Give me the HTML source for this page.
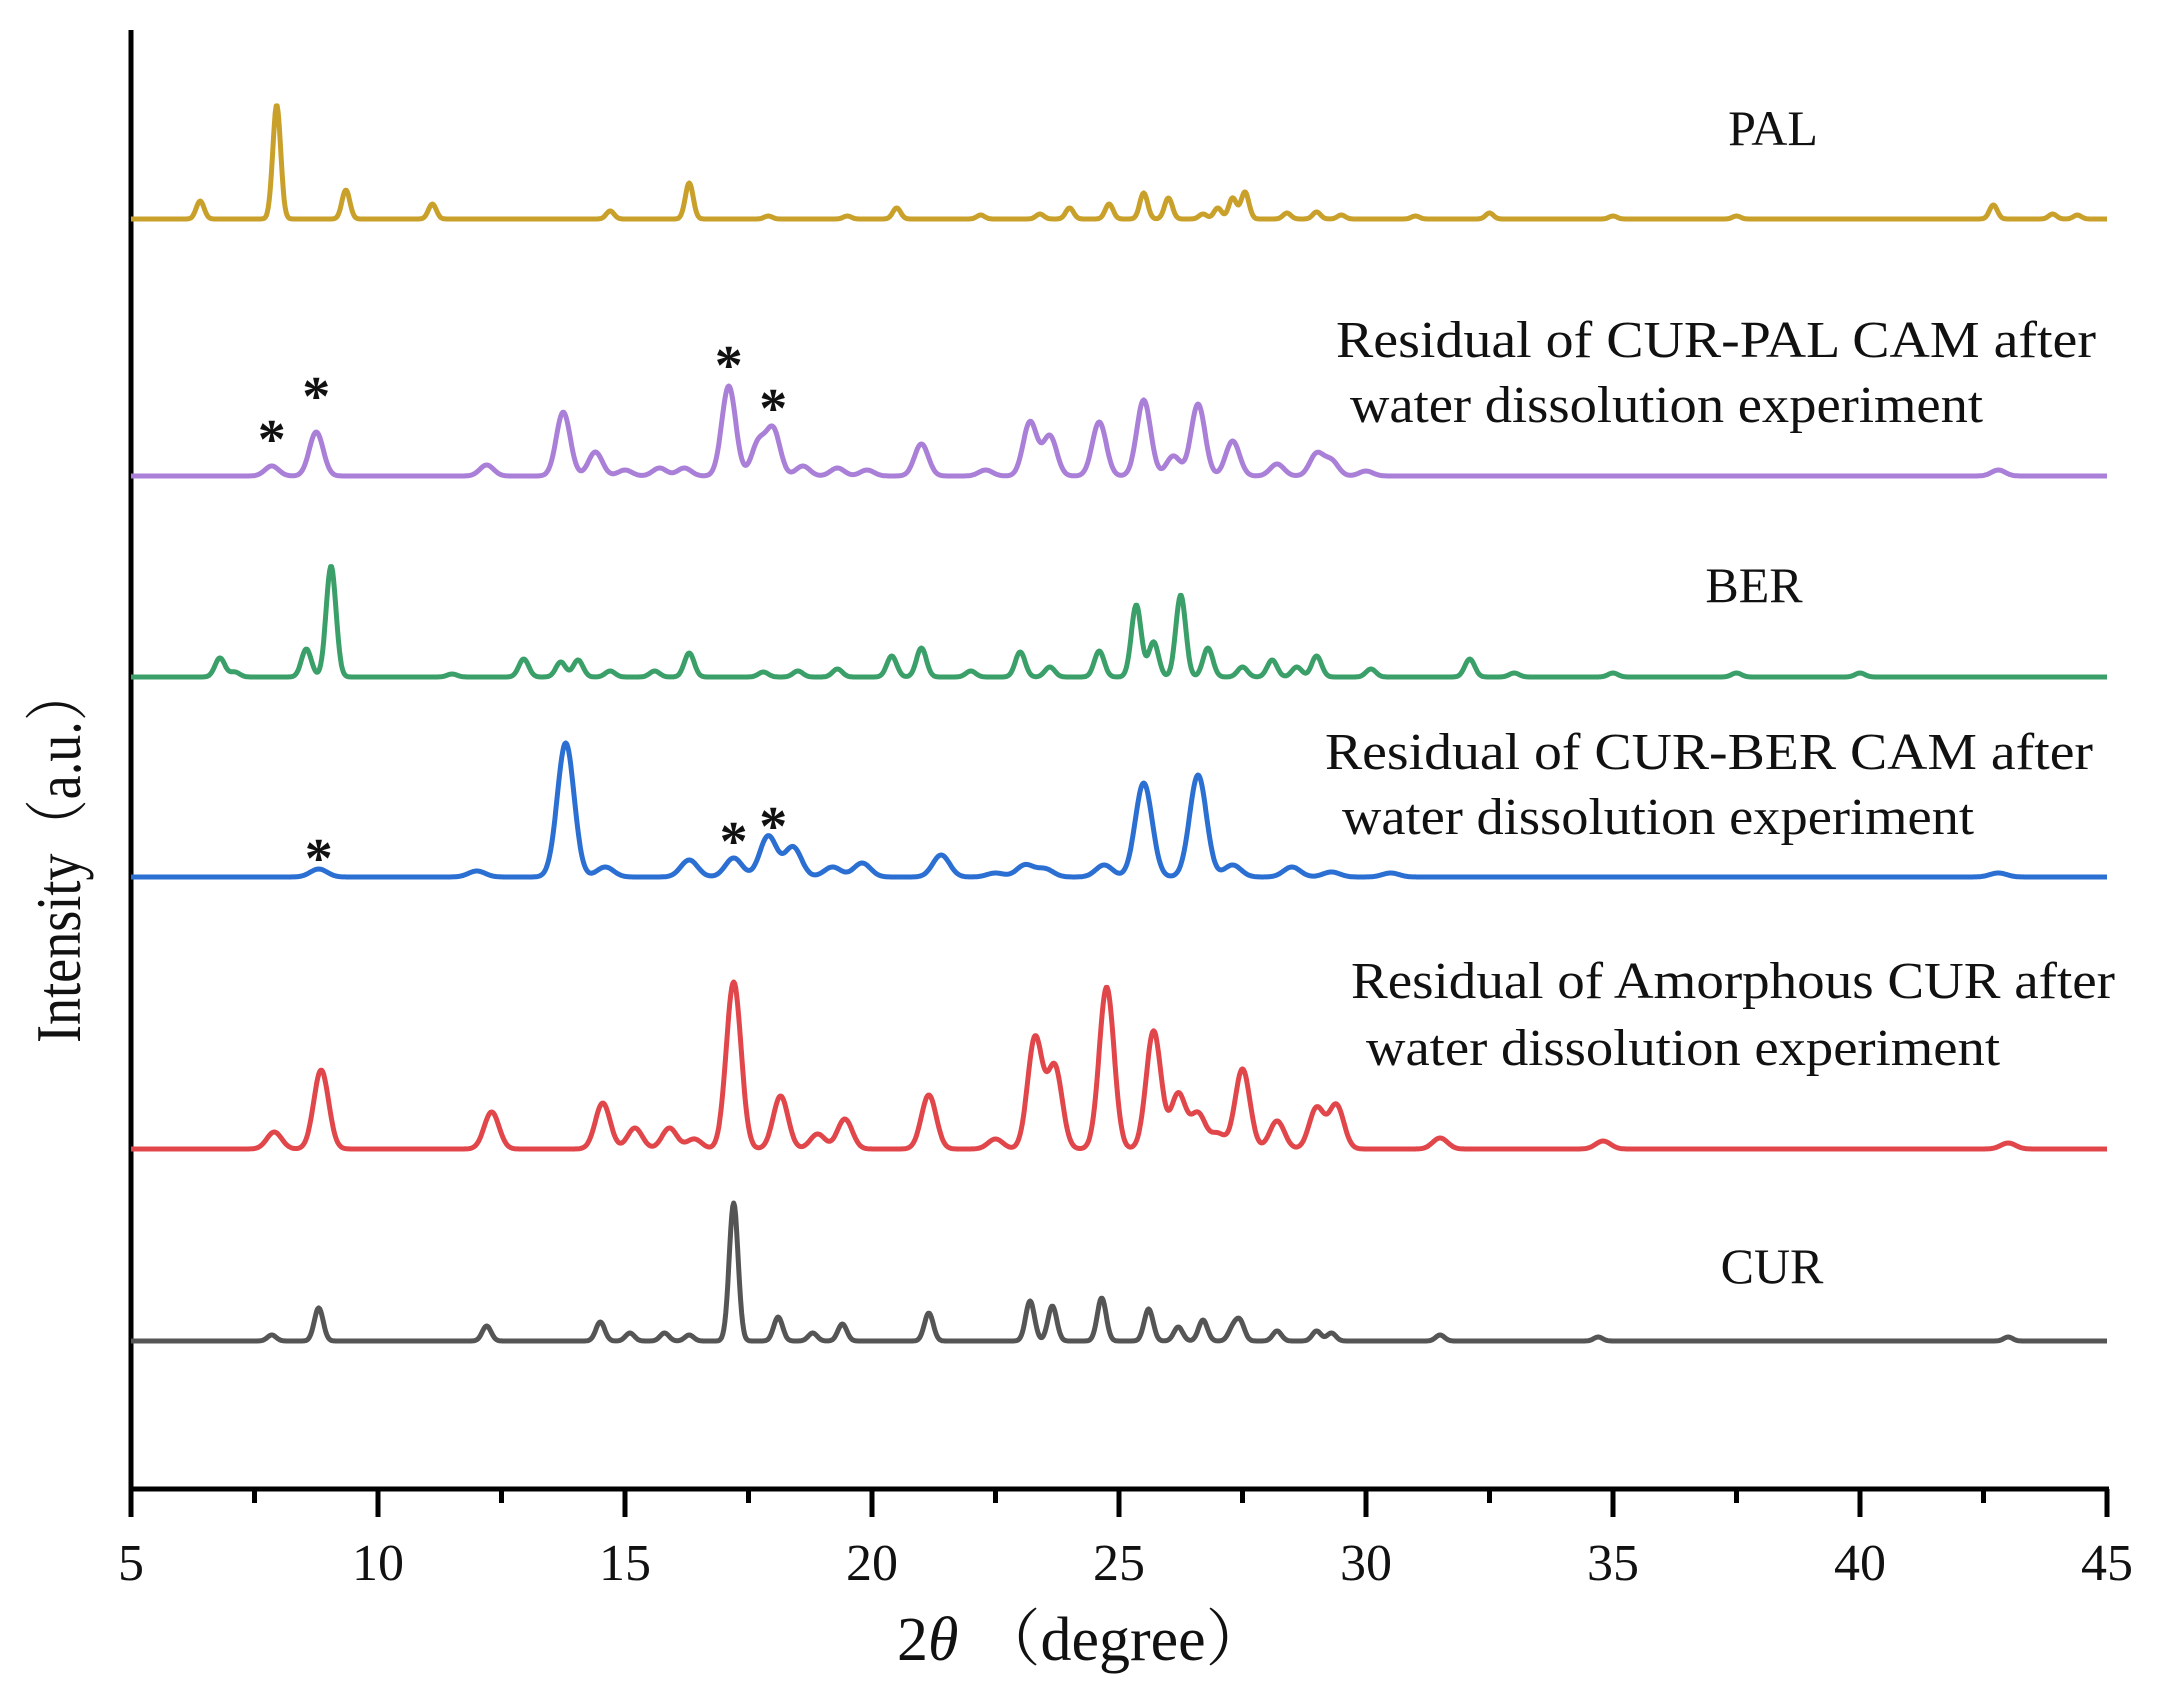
<!DOCTYPE html>
<html><head><meta charset="utf-8"><style>
html,body{margin:0;padding:0;background:#fff;}
svg{display:block;}
text{font-family:"Liberation Serif","Noto Serif CJK SC",serif;fill:#111;}
</style></head><body>
<svg id="chart" width="2166" height="1691" viewBox="0 0 2166 1691" xmlns="http://www.w3.org/2000/svg">
<rect width="2166" height="1691" fill="#fff"/>
<g id="axes"></g>
<g id="series"></g>
<g id="labels">
<text x="1773" y="145" font-size="50" text-anchor="middle">PAL</text>
<text x="1336" y="357" font-size="52" textLength="760" lengthAdjust="spacingAndGlyphs">Residual of  CUR-PAL CAM after</text>
<text x="1350" y="422" font-size="52" textLength="633" lengthAdjust="spacingAndGlyphs">water dissolution experiment</text>
<text x="1754" y="602" font-size="50" text-anchor="middle">BER</text>
<text x="1325" y="769" font-size="52" textLength="768" lengthAdjust="spacingAndGlyphs">Residual of  CUR-BER CAM after</text>
<text x="1342" y="834" font-size="52" textLength="632" lengthAdjust="spacingAndGlyphs">water dissolution experiment</text>
<text x="1351" y="998" font-size="52" textLength="764" lengthAdjust="spacingAndGlyphs">Residual of Amorphous CUR after</text>
<text x="1366" y="1065" font-size="52" textLength="634" lengthAdjust="spacingAndGlyphs">water dissolution experiment</text>
<text x="1772" y="1283" font-size="50" text-anchor="middle">CUR</text>
<text x="897" y="1660" font-size="62"><tspan>2</tspan><tspan font-style="italic">θ</tspan><tspan dx="20">（degree）</tspan></text>
<text transform="translate(80,855) rotate(-90)" font-size="64" text-anchor="middle" textLength="376" lengthAdjust="spacingAndGlyphs">Intensity（a.u.）</text>
</g>
</svg>
<script>
const xTicks=[5,10,15,20,25,30,35,40,45];
const xMinor=[7.5,12.5,17.5,22.5,27.5,32.5,37.5,42.5];
const palPos=[6.4,7.95,9.35,11.1,14.7,16.3,17.9,19.5,20.5,22.2,23.4,24.0,24.8,25.5,26.0,26.7,27.0,27.3,27.55,28.4,29.0,29.5,31.0,32.5,35.0,37.5,42.7,43.9,44.4];
const palInt=[18,114,29,15,8,36,3,3,11,4,5,11,15,26,21,5,11,21,27,6,7,4,3,6,3,3,14,5,4];
const purPos=[7.85,8.75,12.2,13.75,14.4,15.0,15.7,16.2,17.1,17.7,18.0,18.6,19.3,19.9,21.0,22.3,23.2,23.6,24.6,25.5,26.1,26.6,27.3,28.2,29.0,29.3,30.0,42.8];
const purInt=[10,44,11,64,24,6,8,8,90,33,46,10,8,6,32,6,54,40,54,76,20,72,35,12,22,15,5,6];
const berPos=[6.8,7.1,8.55,9.05,11.5,12.95,13.7,14.05,14.7,15.6,16.3,17.8,18.5,19.3,20.4,21.0,22.0,23.0,23.6,24.6,25.35,25.7,26.25,26.8,27.5,28.1,28.6,29.0,30.1,32.1,33.0,35.0,37.5,40.0];
const berInt=[19,5,28,111,3,18,15,17,6,6,24,5,6,8,21,29,6,25,10,26,72,35,82,29,10,17,10,21,8,18,4,4,4,4];
const cbPos=[8.8,12.0,13.8,14.6,16.3,17.2,17.9,18.4,19.2,19.8,21.4,22.5,23.1,23.5,24.7,25.5,26.6,27.3,28.5,29.3,30.5,42.8];
const cbInt=[8,6,134,10,17,19,41,30,10,14,22,4,12,8,12,94,102,12,10,5,4,4];
const redPos=[7.9,8.85,12.3,14.55,15.2,15.9,16.4,17.2,18.15,18.9,19.45,21.15,22.5,23.3,23.7,24.75,25.7,26.2,26.6,27.0,27.5,28.2,29.0,29.4,31.5,34.8,43.0];
const redInt=[17,79,37,46,21,21,10,167,53,15,30,54,10,111,82,162,118,55,35,15,80,28,41,44,11,8,6];
const curPos=[7.85,8.8,12.2,14.5,15.1,15.8,16.3,17.2,18.1,18.8,19.4,21.15,23.2,23.65,24.65,25.6,26.2,26.7,27.3,27.45,28.2,29.0,29.3,31.5,34.7,43.0];
const curInt=[6,33,15,19,8,8,6,138,24,8,17,28,40,35,43,32,14,21,12,19,10,10,8,6,4,4];
const baselines=[219,476,677,877,1149,1341];

const NS='http://www.w3.org/2000/svg';
const X0=131,X1=2107,YB=1489,YT=30;
function xs(v){return X0+(v-5)/40*(X1-X0);}
function mk(tag,attrs,parent){const e=document.createElementNS(NS,tag);for(const k in attrs)e.setAttribute(k,attrs[k]);parent.appendChild(e);return e;}
const axes=document.getElementById('axes');
const ya=mk('line',{x1:X0,y1:YT,x2:X0,y2:YB,stroke:'#000','stroke-width':5},axes);


const xa=mk('line',{x1:X0-2,y1:YB,x2:X1+2,y2:YB,stroke:'#000','stroke-width':5},axes);


xTicks.forEach(t=>{
  const l=mk('line',{x1:xs(t),y1:YB,x2:xs(t),y2:YB+28,stroke:'#000','stroke-width':5},axes);
  
  
  const tx=mk('text',{x:xs(t),y:1580,'font-size':52,'text-anchor':'middle'},axes);
  tx.textContent=t;
  
  
});
xMinor.forEach(t=>{
  const l=mk('line',{x1:xs(t),y1:YB,x2:xs(t),y2:YB+14,stroke:'#000','stroke-width':5},axes);
  
  
});
const defs=[
 {name:'pal',pos:palPos,int:palInt,sig:0.08,color:'#c9a02a',b:0},
 {name:'cur-pal-residual',pos:purPos,int:purInt,sig:0.14,color:'#a97fd8',b:1},
 {name:'ber',pos:berPos,int:berInt,sig:0.1,color:'#3a9f68',b:2},
 {name:'cur-ber-residual',pos:cbPos,int:cbInt,sig:0.17,color:'#2b6fd2',b:3},
 {name:'amorphous-cur-residual',pos:redPos,int:redInt,sig:0.15,color:'#e0464a',b:4},
 {name:'cur',pos:curPos,int:curInt,sig:0.09,color:'#555555',b:5}
];
const sg=document.getElementById('series');
defs.forEach(d=>{
  let pts=[];
  for(let v=5;v<=45.0001;v+=0.02){
    let s=0;
    for(let i=0;i<d.pos.length;i++){const z=(v-d.pos[i])/d.sig;if(Math.abs(z)<6)s+=d.int[i]*Math.exp(-0.5*z*z);}
    pts.push(xs(v).toFixed(1)+','+(baselines[d.b]-s).toFixed(1));
  }
  const p=mk('polyline',{points:pts.join(' '),fill:'none',stroke:d.color,'stroke-width':5,'stroke-linejoin':'round'},sg);
  
  
});
const starX=[7.85,8.75,17.1,18.0,8.8,17.2,18.0];
const starY=[458,415,384,427,877,860,845];
starX.forEach((v,i)=>{
  const t=mk('text',{x:xs(v),y:starY[i],'font-size':56,'font-weight':'bold','text-anchor':'middle'},sg);
  t.textContent='*';
  
  
});
</script>
</body></html>
